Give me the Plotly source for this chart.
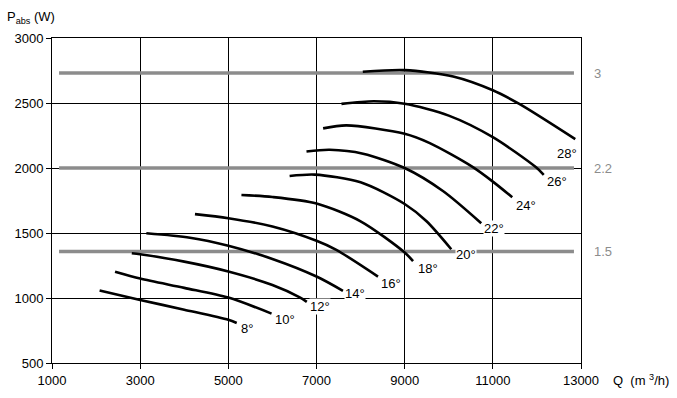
import plotly.graph_objects as go

# ---- data ----
angles = ["8°", "10°", "12°", "14°", "16°", "18°", "20°", "22°", "24°", "26°", "28°"]

q_8 = [2080, 3000, 4000, 5000, 5190]
p_8 = [1058, 985, 910, 832, 808]
q_10 = [2430, 3000, 4000, 5000, 5980]
p_10 = [1202, 1150, 1078, 1003, 880]
q_12 = [2810, 3000, 4000, 5000, 6000, 6620, 6780]
p_12 = [1344, 1336, 1280, 1204, 1100, 1005, 970]
q_14 = [3140, 4130, 5000, 6000, 7000, 7600]
p_14 = [1498, 1464, 1402, 1300, 1165, 1055]
q_16 = [4243, 5000, 6000, 7000, 7450, 8395]
p_16 = [1645, 1614, 1550, 1440, 1370, 1165]
q_18 = [5297, 6000, 7000, 8000, 9000, 9190]
p_18 = [1792, 1777, 1727, 1590, 1350, 1284]
q_20 = [6390, 6960, 8000, 9000, 9490, 10057]
p_20 = [1938, 1949, 1890, 1723, 1592, 1375]
q_22 = [6773, 7300, 8056, 9000, 9868, 10737]
p_22 = [2127, 2140, 2110, 2000, 1823, 1575]
q_24 = [7150, 7680, 9000, 9570, 10530, 11000, 11440]
p_24 = [2305, 2328, 2263, 2191, 2010, 1895, 1775]
q_26 = [7566, 8300, 9000, 10000, 11000, 11980, 12155]
p_26 = [2493, 2513, 2494, 2403, 2237, 2005, 1947]
q_28 = [8050, 9000, 10100, 11000, 11600, 12870]
p_28 = [2740, 2753, 2704, 2598, 2493, 2222]

curves_q = [q_8, q_10, q_12, q_14, q_16, q_18, q_20, q_22, q_24, q_26, q_28]
curves_p = [p_8, p_10, p_12, p_14, p_16, p_18, p_20, p_22, p_24, p_26, p_28]

label_q = [5420, 6280, 7070, 7870, 8700, 9520, 10380, 11020, 11760, 12460, 12690]
label_p = [767, 836, 937, 1037, 1114, 1230, 1338, 1532, 1709, 1895, 2111]

motor_kw = ["3", "2.2", "1.5"]
motor_p = [2730, 2000, 1357]
motor_q = [1160, 12840]

x_ticks = [1000, 3000, 5000, 7000, 9000, 11000, 13000]
y_ticks = [500, 1000, 1500, 2000, 2500, 3000]

FONT = "Liberation Sans, Arial, sans-serif"

L, R, T, B = 52, 96, 38, 35
W, H = 677, 398
pw, ph = W - L - R, H - T - B

fig = go.Figure()

# gray motor power lines
for p in motor_p:
    fig.add_trace(go.Scatter(x=motor_q, y=[p, p], mode="lines",
                             line=dict(color="#8c8c8c", width=3.5),
                             hoverinfo="skip", showlegend=False))

# blade angle curves
for q, p in zip(curves_q, curves_p):
    fig.add_trace(go.Scatter(x=q, y=p, mode="lines",
                             line=dict(color="black", width=2.6, shape="spline", smoothing=0.8),
                             hoverinfo="skip", showlegend=False))

annotations = []
for t, q, p in zip(angles, label_q, label_p):
    annotations.append(dict(x=q, y=p, xref="x", yref="y", text=t, showarrow=False,
                            font=dict(family=FONT, size=13, color="black"),
                            bgcolor="white", borderpad=0))
for t, p in zip(motor_kw, motor_p):
    annotations.append(dict(x=1.02, y=p, xref="paper", yref="y", text=t, showarrow=False,
                            xanchor="left", font=dict(family=FONT, size=13, color="#8c8c8c")))
# axis titles placed by pixel position
annotations.append(dict(x=(5 - L) / pw, y=1 - (17 - T) / ph, xref="paper", yref="paper",
                        xanchor="left", yanchor="middle",
                        text="P<sub>abs</sub> (W)", showarrow=False,
                        font=dict(family=FONT, size=13, color="black")))
annotations.append(dict(x=(611 - L) / pw, y=1 - (380 - T) / ph, xref="paper", yref="paper",
                        xanchor="left", yanchor="middle",
                        text="Q  (m <sup>3</sup>/h)", showarrow=False,
                        font=dict(family=FONT, size=13, color="black")))

axis_common = dict(showgrid=True, gridcolor="black", gridwidth=1,
                   showline=True, linecolor="black", linewidth=1, mirror=True,
                   ticks="outside", ticklen=5, tickcolor="black", zeroline=False,
                   automargin=False, tickfont=dict(family=FONT, size=13))

fig.update_layout(
    width=W, height=H,
    margin=dict(l=L, r=R, t=T, b=B, pad=0),
    paper_bgcolor="white", plot_bgcolor="white",
    font=dict(family=FONT, size=13, color="black"),
    annotations=annotations,
    hovermode=False,
    xaxis=dict(range=[1000, 13000], tickvals=x_ticks, ticktext=[str(v) for v in x_ticks], **axis_common),
    yaxis=dict(range=[500, 3000], tickvals=y_ticks, ticktext=[str(v) for v in y_ticks], **axis_common),
)

fig.write_html("out.html", config={"displayModeBar": False, "staticPlot": True},
               post_script="document.body.style.margin='0';document.body.style.overflow='hidden';")
